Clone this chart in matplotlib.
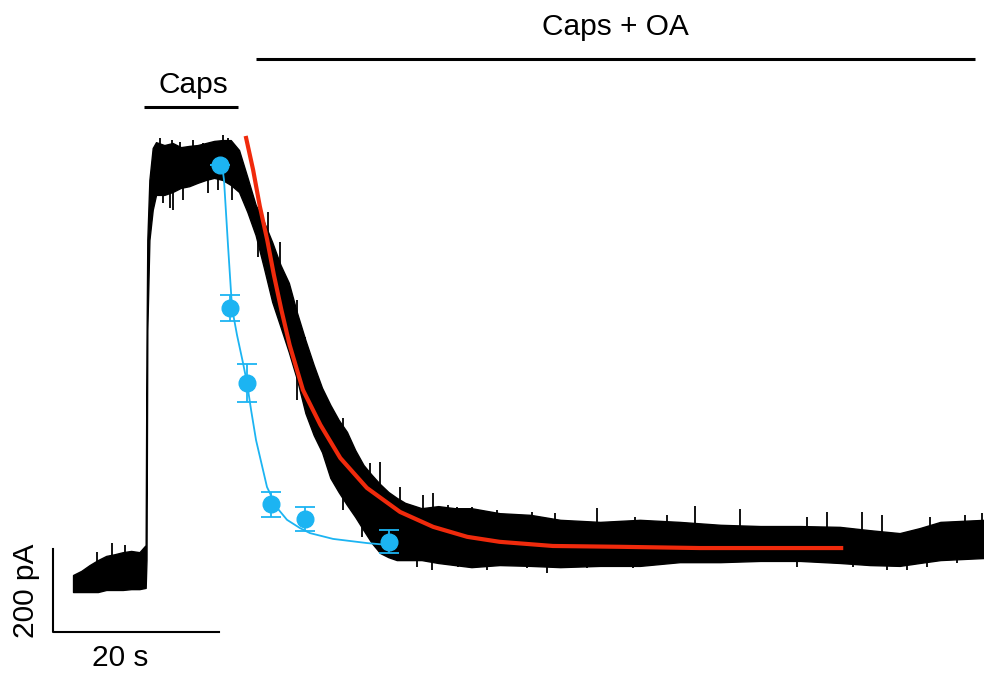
import matplotlib
matplotlib.use("Agg")
import matplotlib.pyplot as plt
import numpy as np

plt.rcParams['font.family'] = ['Liberation Sans', 'DejaVu Sans']

# whole-cell current trace, read as an envelope (time in s, current in pA)
env_t = [0, 1, 2, 3, 4, 5, 6, 7, 8, 8.75, 8.85, 8.95, 9.2, 9.6,
         10, 11, 12, 13, 14, 15, 16, 17, 18, 19, 20,
         21, 22, 23, 24, 25, 26, 27, 28, 29, 30, 31, 32, 33, 34, 35,
         36, 37, 38, 39, 40, 42, 44, 46, 48,
         51.4, 55.1, 58.7, 63.5, 68.3, 73.1, 78.0, 82.8, 87.6, 92.4,
         96.0, 99.6, 102.0, 104.5, 109.8]
env_hi = [12, 22, 36, 48, 58, 62, 67, 70, 67, 84, 554, 819, 964, 1041,
          1055, 1048, 1053, 1043, 1046, 1048, 1053, 1058, 1060, 1060, 1036,
          971, 904, 863, 814, 759, 716, 643, 578, 518, 463, 422, 386, 357, 313, 277,
          253, 231, 212, 198, 186, 173, 178, 173, 173,
          161, 157, 145, 140, 145, 140, 133, 130, 130, 128,
          120, 113, 125, 140, 145]
env_lo = [-29, -29, -29, -29, -24, -24, -24, -22, -22, -19, 48, 602, 819, 892,
          928, 928, 935, 945, 949, 957, 964, 969, 964, 952, 935,
          887, 831, 752, 670, 610, 549, 482, 402, 349, 308, 246, 212, 181, 152, 120,
          89, 65, 55, 48, 48, 48, 41, 36, 31,
          36, 34, 31, 34, 34, 43, 43, 46, 46, 41,
          36, 34, 41, 48, 53]

# noise spikes sticking out of the trace
up_t = [2.89, 4.70, 6.27, 10.48, 11.93, 12.89, 14.46, 15.66, 18.07, 18.67,
        23.49, 24.94, 26.99, 27.95, 32.53, 35.78, 36.99, 39.40, 42.17, 43.37,
        45.18, 46.27, 48.07, 51.08, 55.30, 58.07, 63.13, 67.71, 71.57, 74.94,
        80.36, 88.43, 90.84, 95.06, 97.47, 103.25, 107.47, 109.52]
up_i = [67, 89, 84, 1065, 1060, 1055, 1060, 1053, 1072, 1065,
        887, 814, 675, 586, 390, 282, 284, 224, 205, 210,
        181, 176, 176, 169, 164, 161, 173, 152, 157, 178,
        171, 152, 164, 164, 157, 152, 157, 161]
dn_t = [10.84, 11.69, 12.05, 13.25, 16.27, 17.47, 19.16, 22.29, 24.58, 26.99,
        29.76, 32.53, 34.82, 41.45, 43.25, 46.39, 49.88, 54.70, 57.11, 61.93,
        64.34, 67.47, 70.72, 74.34, 77.95, 87.23, 93.98, 98.07, 100.48, 102.89, 106.51]
dn_i = [908, 896, 892, 916, 933, 940, 916, 778, 643, 434,
        320, 169, 104, 31, 24, 31, 24, 29, 17, 29,
        31, 29, 41, 41, 41, 31, 31, 24, 24, 31, 41]

# exponential fit to the trace (red)
red_t = [20.8, 21.7, 22.5, 23.4, 24.2, 25.1, 26.1, 27.7, 29.8, 32.2, 35.4,
         39.4, 43.4, 47.5, 51.4, 57.8, 65.9, 75.5, 92.8]
red_i = [1070, 988, 901, 819, 735, 651, 566, 458, 374, 294, 222,
         164, 128, 104, 92, 82, 80, 77, 77]

# mean points with error bars and their fit (blue)
pt_t = [17.71, 18.92, 20.96, 23.86, 27.95, 38.07]
pt_i = [1000, 655, 475, 183, 147, 92]
pt_err = [0, 31, 45, 30, 30, 28]
fit_t = [17.95, 18.19, 18.67, 19.16, 19.76, 20.48, 20.96, 21.45, 22.05, 23.37,
         24.58, 25.78, 27.35, 28.55, 31.33, 35.42, 38.19]
fit_i = [1000, 964, 807, 655, 590, 523, 475, 410, 337, 224,
         174, 145, 125, 113, 99, 89, 84]

blue = '#1cb4f2'
red = '#f02a0c'

fig = plt.figure(figsize=(9.84, 6.73), dpi=100)
ax = fig.add_axes([0, 0, 1, 1])
ax.set_xlim(-8.8, 109.76)
ax.set_ylim(-224.1, 1397.6)
ax.axis('off')

ax.fill_between(env_t, env_lo, env_hi, color='black', lw=1.0, zorder=2)
mid = (np.array(env_hi) + np.array(env_lo)) / 2
ax.vlines(up_t, np.interp(up_t, env_t, mid), up_i, color='black', lw=1.3, zorder=2)
ax.vlines(dn_t, dn_i, np.interp(dn_t, env_t, mid), color='black', lw=1.3, zorder=2)

ax.plot(red_t, red_i, color=red, lw=3.0, solid_capstyle='butt', zorder=3)

ax.plot(fit_t, fit_i, color=blue, lw=1.3, zorder=4)
ax.errorbar(pt_t, pt_i, yerr=pt_err, fmt='none', ecolor=blue,
            elinewidth=1.3, capsize=7, capthick=1.3, zorder=5)
ax.plot(pt_t, pt_i, 'o', color=blue, ms=12, mec=blue, zorder=6)

# drug application bars
ax.plot([8.55, 19.88], [1140, 1140], color='black', lw=2.2, solid_capstyle='butt')
ax.text(14.46, 1173, 'Caps', ha='center', va='baseline', fontsize=21.5)
ax.plot([22.05, 108.67], [1255, 1255], color='black', lw=2.2, solid_capstyle='butt')
ax.text(65.4, 1313, 'Caps + OA', ha='center', va='baseline', fontsize=21.5)

# scale bars
ax.plot([-2.4, -2.4, 17.6], [75, -125, -125], color='black', lw=1.5)
ax.text(-5.66, -25, '200 pA', rotation=90, ha='center', va='center', fontsize=21.5)
ax.text(5.66, -208, '20 s', ha='center', va='baseline', fontsize=21.5)

fig.savefig('out.png', dpi=100)
